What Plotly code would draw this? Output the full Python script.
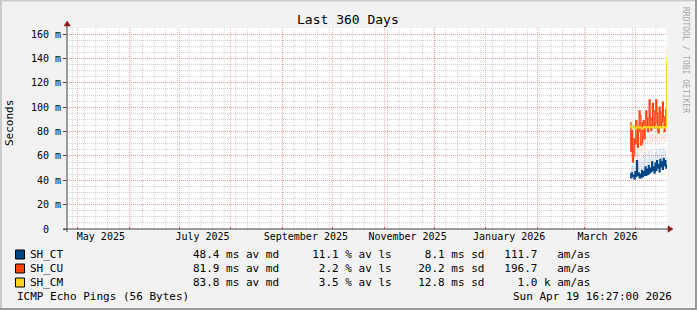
import plotly.graph_objects as go
import pandas as pd

# ---------------- data ----------------
graph_end = pd.Timestamp("2026-04-19 16:27:00")
graph_days = 360
first_sample = pd.Timestamp("2026-03-28 12:00:00")
sample_step = "12h"

hosts = ["SH_CT", "SH_CU", "SH_CM"]
host_colors = ["#004586", "#ff420e", "#ffd320"]

sh_ct = [45, 42, 46, 43, 44, 41, 47, 43, 56, 44, 46, 42, 45, 42, 48, 43, 47, 44, 51, 44,
         49, 45, 52, 46, 50, 47, 55, 48, 51, 46, 54, 48, 56, 50, 53, 47, 57, 51, 55, 49,
         58, 52, 56, 50, 53]
sh_cu = [87, 64, 81, 55, 60, 74, 70, 89, 84, 67, 80, 97, 93, 69, 71, 87, 89, 74, 83, 97,
         91, 80, 84, 106, 91, 81, 85, 103, 97, 83, 87, 106, 95, 81, 79, 100, 96, 84, 88, 104,
         92, 80, 85, 98, 88]
sh_cm = [85, 84, 83, 83, 84, 83, 82, 83, 84, 83, 83, 84, 83, 83, 82, 83, 84, 83, 84, 83,
         83, 84, 83, 84, 83, 83, 84, 84, 83, 83, 84, 83, 84, 83, 83, 84, 83, 84, 83, 84,
         83, 84, 83, 84, 138]
# faint (spread) lines
sh_ct_hi = [48, 46, 52, 47, 50, 45, 55, 49, 62, 50, 53, 47, 58, 48, 55, 49, 60, 51, 63, 50,
            57, 52, 64, 53, 59, 54, 65, 55, 60, 52, 63, 56, 65, 57, 61, 54, 66, 58, 63, 56,
            66, 60, 64, 57, 60]
sh_cu_lo = [70, 60, 66, 57, 58, 64, 62, 72, 70, 60, 68, 75, 74, 63, 64, 70, 72, 66, 70, 76,
            74, 70, 72, 80, 76, 70, 72, 78, 77, 72, 74, 80, 78, 72, 70, 78, 77, 73, 75, 80,
            77, 72, 74, 78, 76]
sh_cm_hi = [88, 86, 85, 85, 86, 85, 84, 85, 86, 85, 85, 86, 85, 85, 84, 85, 86, 85, 86, 85,
            85, 86, 85, 86, 85, 85, 86, 86, 85, 85, 86, 85, 86, 85, 85, 86, 85, 86, 85, 86,
            85, 86, 85, 86, 149]

avg_median = [48.4, 81.9, 83.8]
avg_loss = [11.1, 2.2, 3.5]
avg_sd = [8.1, 20.2, 12.8]
am_as = [111.7, 196.7, 1.0]
am_as_unit = ["", "", "k"]

y_ticks = [0, 20, 40, 60, 80, 100, 120, 140, 160]
y_tick_text = ["0\u00a0\u00a0", "20 m", "40 m", "60 m", "80 m", "100 m", "120 m", "140 m", "160 m"]
x_label_dates = ["2025-05-15", "2025-07-15", "2025-09-15", "2025-11-15", "2026-01-15", "2026-03-15"]
x_label_text = ["May 2025", "July 2025", "September 2025", "November 2025", "January 2026", "March 2026"]

title = "Last 360 Days"
y_title = "Seconds"
footer_left = "ICMP Echo Pings (56 Bytes)"
footer_right = "Sun Apr 19 16:27:00 2026"
watermark = "RRDTOOL / TOBI OETIKER"

# ---------------- geometry ----------------
W, H = 697, 310
L, R, T, B = 67, 30, 28, 81
PW, PH = W - L - R, H - T - B
MONO = "DejaVu Sans Mono"


def px(x):
    return (x - L) / PW


def py(y):
    return (H - B - y) / PH


graph_start = graph_end - pd.Timedelta(days=graph_days)
times = pd.date_range(first_sample, periods=len(sh_ct), freq=sample_step)
month_starts = pd.date_range(graph_start.normalize(), graph_end, freq="MS")
weeks = pd.date_range(graph_start.normalize(), graph_end, freq="W-MON")

fig = go.Figure()

faint = [(sh_ct_hi, "rgba(0,69,134,0.11)"), (sh_cu_lo, "rgba(255,66,14,0.13)"),
         (sh_cm_hi, "rgba(255,211,32,0.35)")]
for vals, col in faint:
    fig.add_trace(go.Scatter(x=times, y=vals, mode="lines", line=dict(color=col, width=1.2, shape="hv"),
                             hoverinfo="skip", showlegend=False))

for name, vals, col in zip(hosts, [sh_ct, sh_cu, sh_cm], host_colors):
    fig.add_trace(go.Scatter(x=times, y=vals, mode="lines", name=name,
                             line=dict(color=col, width=1.4, shape="hv"), showlegend=False))

RED_GRID = "rgba(235,80,80,0.42)"
GRAY_GRID = "rgba(140,140,140,0.38)"
DOT = "1px,1px"

shapes = []
for d in weeks:
    shapes.append(dict(type="line", xref="x", yref="paper", x0=d, x1=d, y0=0, y1=1,
                       line=dict(color=GRAY_GRID, width=1, dash=DOT), layer="below"))

AX = "#404040"
ARROW = "#8b1a1a"
# axes
shapes.append(dict(type="line", xref="paper", yref="paper", x0=px(67), x1=px(67), y0=py(232), y1=py(25),
                   line=dict(color=AX, width=1)))
shapes.append(dict(type="line", xref="paper", yref="paper", x0=px(63), x1=px(668), y0=py(229), y1=py(229),
                   line=dict(color=AX, width=1)))
shapes.append(dict(type="path", xref="paper", yref="paper",
                   path=f"M {px(64)},{py(26)} L {px(70.5)},{py(26)} L {px(67.2)},{py(21)} Z",
                   fillcolor=ARROW, line=dict(color=ARROW, width=0.5)))
shapes.append(dict(type="path", xref="paper", yref="paper",
                   path=f"M {px(668)},{py(225.8)} L {px(668)},{py(232.2)} L {px(673)},{py(229)} Z",
                   fillcolor=ARROW, line=dict(color=ARROW, width=0.5)))
# frame shading
shapes.append(dict(type="line", xref="paper", yref="paper", x0=px(0), x1=px(W), y0=py(0.5), y1=py(0.5),
                   line=dict(color="#cbcbcb", width=2)))
shapes.append(dict(type="line", xref="paper", yref="paper", x0=px(1), x1=px(1), y0=py(0), y1=py(H),
                   line=dict(color="#cbcbcb", width=2)))
shapes.append(dict(type="line", xref="paper", yref="paper", x0=px(0), x1=px(W), y0=py(H - 1), y1=py(H - 1),
                   line=dict(color="#999999", width=2)))
shapes.append(dict(type="line", xref="paper", yref="paper", x0=px(W - 1), x1=px(W - 1), y0=py(0), y1=py(H),
                   line=dict(color="#999999", width=2)))

annotations = []


def text(x, y, s, size=11, anchor="left", color="#000", angle=0):
    annotations.append(dict(xref="paper", yref="paper", x=px(x), y=py(y), text=s, showarrow=False,
                            xanchor=anchor, yanchor="middle", textangle=angle, borderpad=0,
                            font=dict(family=MONO, size=size, color=color)))


text(348, 19, title, size=13, anchor="center")
text(10, 123, y_title, size=11, anchor="center", angle=-90)
text(686, 60, watermark, size=8, anchor="center", color="#a8a8a8", angle=90)

row_y = [254.5, 268.5, 282.5]
for i, name in enumerate(hosts):
    y = row_y[i]
    shapes.append(dict(type="rect", xref="paper", yref="paper", x0=px(15.5), x1=px(24.5),
                       y0=py(y - 4.5), y1=py(y + 4.5), fillcolor=host_colors[i],
                       line=dict(color="#000", width=1)))
    text(29, y, name)
    s = (f"{avg_median[i]:4.1f} ms av md{'':5s}{avg_loss[i]:4.1f} % av ls"
         f"{avg_sd[i]:8.1f} ms sd{am_as[i]:8.1f} {am_as_unit[i] or ' '} am/as")
    text(192, y, s.replace(" ", "\u00a0"))

text(15.5, 296, footer_left.replace(" ", "\u00a0"))
text(512, 296, footer_right.replace(" ", "\u00a0"))

fig.update_layout(
    width=W, height=H, margin=dict(l=L, r=R, t=T, b=B, pad=0),
    paper_bgcolor="#f2f2f2", plot_bgcolor="#ffffff",
    showlegend=False, shapes=shapes, annotations=annotations,
    xaxis=dict(type="date", range=[graph_start, graph_end], tickmode="array",
               tickvals=x_label_dates, ticktext=x_label_text, ticks="", showgrid=False,
               zeroline=False, showline=False, fixedrange=True,
               tickfont=dict(family=MONO, size=10, color="#000"),
               minor=dict(tickmode="array", tickvals=list(month_starts), showgrid=True,
                          gridcolor=RED_GRID, griddash=DOT, gridwidth=1,
                          ticks="inside", ticklen=2, tickcolor="rgba(220,60,60,0.8)")),
    yaxis=dict(range=[0, 165], tickmode="array", tickvals=y_ticks, ticktext=y_tick_text,
               showgrid=True, gridcolor=RED_GRID, griddash=DOT, gridwidth=1,
               zeroline=False, showline=False, ticks="outside", ticklen=3, tickcolor=AX,
               fixedrange=True, tickfont=dict(family=MONO, size=10, color="#000"),
               minor=dict(tickmode="linear", tick0=0, dtick=5, showgrid=True,
                          gridcolor=GRAY_GRID, griddash=DOT, gridwidth=1)),
)

fig.write_html("out.html")
